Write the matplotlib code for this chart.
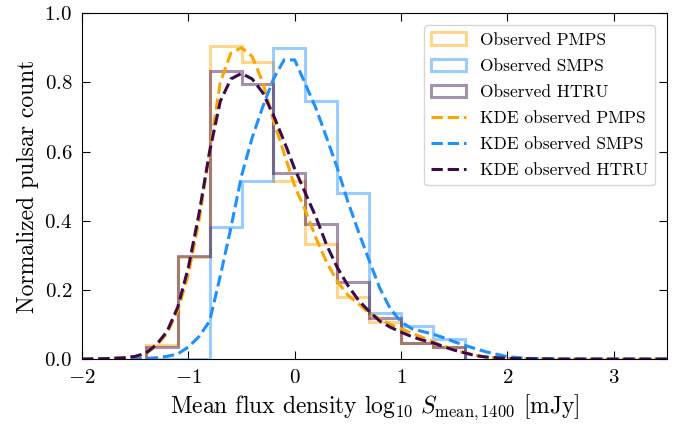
import matplotlib
matplotlib.use('Agg')
import matplotlib.pyplot as plt
import numpy as np

plt.rcParams['font.family'] = 'serif'
plt.rcParams['font.serif'] = ['cmr10']
plt.rcParams['mathtext.fontset'] = 'cm'
plt.rcParams['axes.formatter.use_mathtext'] = True

# histogram bins (log10 S_mean,1400) and normalised heights
bin_edges = [-1.4, -1.1, -0.8, -0.5, -0.2, 0.1, 0.4, 0.7, 1.0, 1.3, 1.6]
hist_pmps = [0.042, 0.294, 0.905, 0.858, 0.515, 0.334, 0.180, 0.108, 0.048, 0.035]
hist_smps = [0.0, 0.0, 0.382, 0.515, 0.898, 0.746, 0.479, 0.134, 0.096, 0.058]
hist_htru = [0.035, 0.298, 0.833, 0.795, 0.538, 0.392, 0.222, 0.119, 0.047, 0.034]

# KDE curves
kde_x = [-2.0, -1.8, -1.6, -1.5, -1.4, -1.3, -1.2, -1.1, -1.0, -0.9, -0.8, -0.7,
         -0.6, -0.5, -0.4, -0.3, -0.2, -0.1, 0.0, 0.1, 0.2, 0.3, 0.4, 0.5, 0.6,
         0.7, 0.8, 0.9, 1.0, 1.1, 1.2, 1.3, 1.4, 1.5, 1.6, 1.7, 1.8, 1.9, 2.0,
         2.2, 2.5, 3.0, 3.5]
kde_pmps = [0.0, 0.001, 0.003, 0.007, 0.016, 0.038, 0.075, 0.14, 0.245, 0.40, 0.60, 0.80,
            0.885, 0.90, 0.875, 0.80, 0.69, 0.595, 0.50, 0.43, 0.35, 0.28, 0.225, 0.185, 0.16,
            0.133, 0.117, 0.10, 0.088, 0.075, 0.063, 0.05, 0.038, 0.027, 0.018, 0.011, 0.006, 0.004, 0.002,
            0.001, 0.0, 0.0, 0.0]
kde_smps = [0.0, 0.0, 0.0, 0.001, 0.002, 0.004, 0.008, 0.015, 0.035, 0.065, 0.11, 0.24,
            0.38, 0.53, 0.64, 0.73, 0.81, 0.865, 0.865, 0.795, 0.725, 0.64, 0.553, 0.455, 0.368,
            0.285, 0.205, 0.145, 0.108, 0.088, 0.08, 0.072, 0.062, 0.05, 0.04, 0.03, 0.021, 0.014, 0.007,
            0.002, 0.0, 0.0, 0.0]
kde_htru = [0.0, 0.001, 0.004, 0.008, 0.017, 0.042, 0.08, 0.15, 0.265, 0.42, 0.60, 0.745,
            0.81, 0.826, 0.81, 0.77, 0.705, 0.63, 0.55, 0.48, 0.41, 0.33, 0.265, 0.213, 0.17,
            0.138, 0.11, 0.092, 0.078, 0.065, 0.055, 0.047, 0.036, 0.026, 0.018, 0.01, 0.006, 0.004, 0.002,
            0.001, 0.0, 0.0, 0.0]

col_pmps = 'orange'
col_smps = 'dodgerblue'
col_htru = '#3b0b4c'

fig = plt.figure(figsize=(6.85, 4.26), dpi=100)
ax = fig.add_axes([0.1197, 0.157, 0.854, 0.812])

centres = 0.5 * (np.array(bin_edges[:-1]) + np.array(bin_edges[1:]))
ax.hist(centres, bins=bin_edges, weights=hist_pmps, histtype='step', lw=2.2,
        color=col_pmps, alpha=0.45, label='Observed PMPS')
ax.hist(centres, bins=bin_edges, weights=hist_smps, histtype='step', lw=2.2,
        color=col_smps, alpha=0.45, label='Observed SMPS')
ax.hist(centres, bins=bin_edges, weights=hist_htru, histtype='step', lw=2.2,
        color=col_htru, alpha=0.45, label='Observed HTRU')

ax.plot(kde_x, kde_pmps, '--', lw=2.2, color=col_pmps, label='KDE observed PMPS')
ax.plot(kde_x, kde_smps, '--', lw=2.2, color=col_smps, label='KDE observed SMPS')
ax.plot(kde_x, kde_htru, '--', lw=2.2, color=col_htru, label='KDE observed HTRU')

ax.set_xlim(-2, 3.5)
ax.set_ylim(0, 1.0)
ax.set_xticks([-2, -1, 0, 1, 2, 3])
ax.set_yticks([0.0, 0.2, 0.4, 0.6, 0.8, 1.0])
ax.tick_params(direction='in', top=True, right=True, length=6, labelsize=15)
ax.tick_params(axis='x', pad=7)
ax.tick_params(axis='y', pad=7)
ax.set_xlabel(r'Mean flux density $\log_{10}\, S_{\rm mean,1400}$ $[\rm mJy]$', fontsize=17)
ax.set_ylabel('Normalized pulsar count', fontsize=17)
ax.legend(loc='upper right', fontsize=12.5, labelspacing=0.62, borderaxespad=0.7)

plt.savefig('out.png', dpi=100)
